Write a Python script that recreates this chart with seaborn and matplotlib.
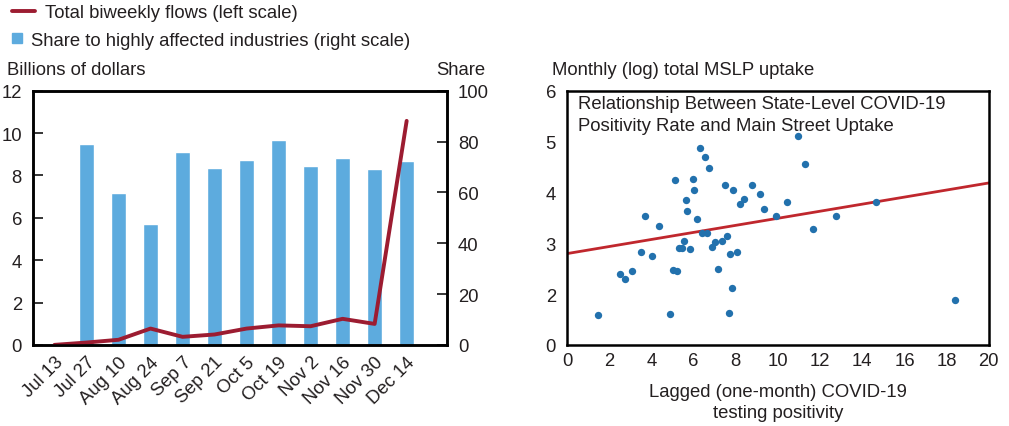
import numpy as np
import matplotlib
matplotlib.use("Agg")
import matplotlib.pyplot as plt
import seaborn as sns
from matplotlib.lines import Line2D

sns.set_style("white")
plt.rcParams['font.family'] = ['Liberation Sans', 'DejaVu Sans']

# left panel data
dates = ["Jul 13", "Jul 27", "Aug 10", "Aug 24", "Sep 7", "Sep 21", "Oct 5",
         "Oct 19", "Nov 2", "Nov 16", "Nov 30", "Dec 14"]
flows = [0.0, 0.11, 0.24, 0.77, 0.38, 0.49, 0.77, 0.92, 0.88, 1.23, 0.99, 10.58]
share = [np.nan, 79.2, 59.9, 47.6, 76.1, 69.7, 72.9, 80.8, 70.5, 73.7, 69.3, 72.5]

# right panel data
positivity = [1.47, 2.51, 2.77, 3.10, 3.49, 3.68, 4.05, 4.36, 4.89, 5.03,
              5.12, 5.20, 5.31, 5.45, 5.55, 5.63, 5.69, 5.83, 5.96, 6.04,
              6.18, 6.32, 6.42, 6.56, 6.62, 6.72, 6.89, 7.00, 7.16, 7.35,
              7.51, 7.57, 7.67, 7.73, 7.81, 7.87, 8.08, 8.21, 8.41, 8.76,
              9.14, 9.33, 9.90, 10.43, 10.96, 11.29, 11.65, 12.74, 14.64, 18.39]
uptake = [1.58, 2.40, 2.30, 2.45, 2.82, 3.54, 2.74, 3.34, 1.60, 2.48,
          4.24, 2.46, 2.90, 2.91, 3.05, 3.86, 3.64, 2.88, 4.27, 4.05,
          3.47, 4.87, 3.20, 4.70, 3.20, 4.49, 2.93, 3.03, 2.50, 3.05,
          4.15, 3.15, 1.63, 2.78, 2.11, 4.04, 2.82, 3.78, 3.87, 4.14,
          3.96, 3.68, 3.54, 3.81, 5.11, 4.55, 3.29, 3.53, 3.81, 1.89]

LINE_RED = "#9c1c31"
BAR_BLUE = "#5dabde"
DOT_BLUE = "#2271ad"
FIT_RED = "#c0272d"
TXT = "#231f20"
FS = 13.3

fig = plt.figure(figsize=(10.09, 4.27), dpi=100)

# ---- left panel: flows + share
ax = fig.add_axes([0.0327, 0.190, 0.410, 0.595])
ax2 = ax.twinx()
x = np.arange(len(dates))
sns.barplot(x=dates, y=share, order=dates, ax=ax2, color=BAR_BLUE,
            saturation=1, width=0.47, errorbar=None)
sns.lineplot(x=x, y=flows, ax=ax, color=LINE_RED, linewidth=2.8)
ax.set_zorder(ax2.get_zorder() + 1)
ax.patch.set_visible(False)

ax.set_xlim(-0.67, 12.25)
ax2.set_xlim(-0.67, 12.25)
ax.set_ylim(0, 12)
ax2.set_ylim(0, 100)
ax.set_yticks(range(0, 13, 2))
ax2.set_yticks(range(0, 101, 20))
ax.set_xticks(x)
ax.set_xticklabels(dates, rotation=45, ha="right", va="top",
                   rotation_mode="anchor", fontsize=FS, color=TXT)
ax.tick_params(axis="y", direction="in", length=7, width=1.3, labelsize=FS,
               labelcolor=TXT, pad=8)
ax2.tick_params(axis="y", direction="in", length=7, width=1.3, labelsize=FS,
                labelcolor=TXT, pad=8)
ax.tick_params(axis="x", length=0, pad=6)
ax.set_xlabel("")
ax.set_ylabel("")
ax2.set_ylabel("")
for a in (ax, ax2):
    for s in a.spines.values():
        s.set_linewidth(1.8)
        s.set_color("black")

fig.text(0.007, 0.835, "Billions of dollars", fontsize=FS, color=TXT, va="center")
fig.text(0.481, 0.835, "Share", fontsize=FS, color=TXT, va="center", ha="right")

fig.legend([Line2D([0], [0], color=LINE_RED, linewidth=2.8)],
           ["Total biweekly flows (left scale)"],
           loc="center left", bbox_to_anchor=(0.008, 0.968), frameon=False,
           fontsize=FS, handlelength=1.25, handletextpad=0.55,
           borderaxespad=0, borderpad=0.2, labelcolor=TXT)
fig.legend([Line2D([0], [0], color=BAR_BLUE, marker="s", markersize=6.5,
                   linestyle="none")],
           ["Share to highly affected industries (right scale)"],
           loc="center left", bbox_to_anchor=(0.008, 0.903), frameon=False,
           fontsize=FS, handlelength=0.6, handletextpad=0.45,
           borderaxespad=0, borderpad=0.2, labelcolor=TXT)

# ---- right panel: scatter
bx = fig.add_axes([0.562, 0.190, 0.418, 0.595])
bx.set_xlim(0, 20)
bx.set_ylim(1, 6)
sns.scatterplot(x=positivity, y=uptake, ax=bx, color=DOT_BLUE, s=28,
                linewidth=0, zorder=3)
sns.regplot(x=positivity, y=uptake, ax=bx, scatter=False, ci=None,
            truncate=False, color=FIT_RED, line_kws={"linewidth": 2})
bx.set_xlim(0, 20)
bx.set_ylim(1, 6)
bx.set_xticks(range(0, 21, 2))
bx.set_xticks(range(1, 20, 2), minor=True)
bx.set_yticks([1, 2, 3, 4, 5, 6])
bx.set_yticklabels(["0", "2", "3", "4", "5", "6"])
bx.tick_params(axis="both", which="both", direction="in", length=7, width=1.3,
               labelsize=FS, labelcolor=TXT)
bx.tick_params(axis="y", pad=8)
bx.tick_params(axis="x", pad=5)
for s in bx.spines.values():
    s.set_linewidth(1.8)
    s.set_color("black")
bx.set_xlabel("Lagged (one-month) COVID-19\ntesting positivity", fontsize=FS,
              color=TXT, labelpad=10, linespacing=1.3)
bx.text(0.027, 0.985, "Relationship Between State-Level COVID-19\n"
        "Positivity Rate and Main Street Uptake", transform=bx.transAxes,
        fontsize=FS, color=TXT, va="top", ha="left", linespacing=1.4)
fig.text(0.547, 0.835, "Monthly (log) total MSLP uptake", fontsize=FS,
         color=TXT, va="center")

fig.savefig("out.png", dpi=100)
